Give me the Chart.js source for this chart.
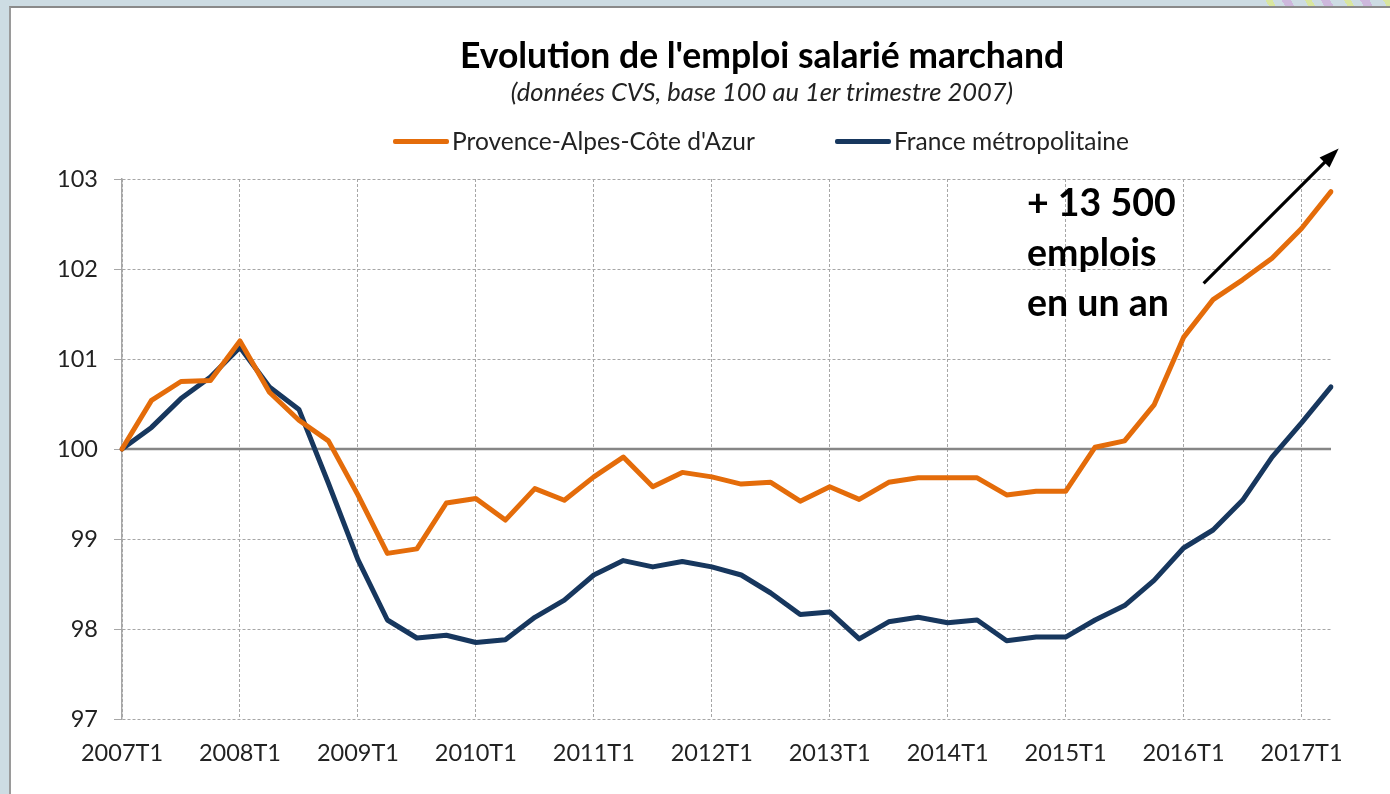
<!DOCTYPE html>
<html>
<head>
<meta charset="utf-8">
<script src="https://cdn.jsdelivr.net/npm/chart.js@4.4.1/dist/chart.umd.min.js"></script>
<style>
  html, body { margin: 0; padding: 0; }
  body { width: 1390px; height: 794px; background: #cddce3; position: relative; overflow: hidden; font-family: Lato, "Open Sans", sans-serif; }
  #stripes { position: absolute; left: 1255px; top: 0; width: 135px; height: 6px;
    background: repeating-linear-gradient(60deg, #cddce3 0 12px, #d9e6a0 12px 18px, #cddce3 18px 26px, #cdb8dc 26px 34px); }
  #panel { position: absolute; left: 9px; top: 6px; right: 0; bottom: 0; background: #fff;
    border-top: 2px solid #8a8a8a; border-left: 2px solid #9a9a9a; }
  #wrap { position: absolute; left: 0; top: 0; width: 1390px; height: 794px; }
  .txt { position: absolute; color: #000; white-space: nowrap; line-height: 1; }
  #title { left: 262px; width: 1000px; top: 37px; text-align: center; font-weight: 700; font-size: 35.5px; }
  #subtitle { left: 262px; width: 1000px; top: 79px; text-align: center; font-style: italic; font-size: 25.5px; color: #222; }
  .leg { position: absolute; top: 129px; height: 24px; display: flex; align-items: center; font-size: 24.5px; color: #222; line-height: 1; white-space: nowrap; }
  .leg .mk { display: inline-block; width: 56px; height: 5px; border-radius: 2px; margin-right: 3px; }
  #note { position: absolute; left: 1027px; top: 177px; font-weight: 700; font-size: 37.5px; line-height: 50px; color: #000; white-space: nowrap; }
</style>
</head>
<body>
<div id="stripes"></div>
<div id="panel"></div>
<div id="wrap"><canvas id="c"></canvas></div>
<div class="txt" id="title">Evolution de l'emploi salarié marchand</div>
<div class="txt" id="subtitle">(données CVS, base 100 au 1er trimestre 2007)</div>
<div class="leg" id="leg1" style="left:393px"><span class="mk" style="background:#E46C0A"></span><span>Provence-Alpes-Côte d'Azur</span></div>
<div class="leg" id="leg2" style="left:835px"><span class="mk" style="background:#17375E"></span><span>France métropolitaine</span></div>
<div id="note">+ 13 500<br>emplois<br>en un an</div>
<script>
// ---- Data ----
const quarters = [
  "2007T1","2007T2","2007T3","2007T4",
  "2008T1","2008T2","2008T3","2008T4",
  "2009T1","2009T2","2009T3","2009T4",
  "2010T1","2010T2","2010T3","2010T4",
  "2011T1","2011T2","2011T3","2011T4",
  "2012T1","2012T2","2012T3","2012T4",
  "2013T1","2013T2","2013T3","2013T4",
  "2014T1","2014T2","2014T3","2014T4",
  "2015T1","2015T2","2015T3","2015T4",
  "2016T1","2016T2","2016T3","2016T4",
  "2017T1","2017T2"
];
const seriesNames = ["Provence-Alpes-Côte d'Azur", "France métropolitaine"];
const pacaValues = [
  100.00, 100.54, 100.75, 100.76,
  101.20, 100.63, 100.32, 100.09,
  99.49, 98.84, 98.89, 99.40,
  99.45, 99.21, 99.56, 99.43,
  99.69, 99.91, 99.58, 99.74,
  99.69, 99.61, 99.63, 99.42,
  99.58, 99.44, 99.63, 99.68,
  99.68, 99.68, 99.49, 99.53,
  99.53, 100.02, 100.09, 100.49,
  101.24, 101.66, 101.88, 102.12,
  102.45, 102.86
];
const franceValues = [
  100.00, 100.24, 100.56, 100.80,
  101.13, 100.69, 100.44, 99.62,
  98.77, 98.10, 97.90, 97.93,
  97.85, 97.88, 98.13, 98.32,
  98.60, 98.76, 98.69, 98.75,
  98.69, 98.60, 98.40, 98.16,
  98.19, 97.89, 98.08, 98.13,
  98.07, 98.10, 97.87, 97.91,
  97.91, 98.10, 98.26, 98.54,
  98.90, 99.10, 99.43, 99.91,
  100.29, 100.69
];
const yTicks = [97, 98, 99, 100, 101, 102, 103];
const baseValue = 100;

// ---- Plugins ----
const baseLinePlugin = {
  id: 'baseLine',
  beforeDatasetsDraw(chart) {
    const {ctx, chartArea, scales} = chart;
    const y = scales.y.getPixelForValue(baseValue);
    ctx.save();
    ctx.strokeStyle = '#868686';
    ctx.lineWidth = 2.5;
    ctx.beginPath();
    ctx.moveTo(chartArea.left, y);
    ctx.lineTo(chartArea.right, y);
    ctx.stroke();
    ctx.restore();
  }
};
const arrowPlugin = {
  id: 'arrow',
  afterDatasetsDraw(chart, args, opts) {
    const {ctx, scales} = chart;
    const x1 = scales.x.getPixelForValue(opts.from[0]);
    const y1 = scales.y.getPixelForValue(opts.from[1]);
    const x2 = scales.x.getPixelForValue(opts.to[0]);
    const y2 = scales.y.getPixelForValue(opts.to[1]);
    const ang = Math.atan2(y2 - y1, x2 - x1);
    const head = 20, hw = 7;
    ctx.save();
    ctx.strokeStyle = '#000';
    ctx.fillStyle = '#000';
    ctx.lineWidth = 3.2;
    ctx.beginPath();
    ctx.moveTo(x1, y1);
    ctx.lineTo(x2 - Math.cos(ang) * head * 0.8, y2 - Math.sin(ang) * head * 0.8);
    ctx.stroke();
    ctx.beginPath();
    ctx.moveTo(x2, y2);
    ctx.lineTo(x2 - Math.cos(ang) * head - Math.sin(ang) * hw, y2 - Math.sin(ang) * head + Math.cos(ang) * hw);
    ctx.lineTo(x2 - Math.cos(ang) * head + Math.sin(ang) * hw, y2 - Math.sin(ang) * head - Math.cos(ang) * hw);
    ctx.closePath();
    ctx.fill();
    ctx.restore();
  }
};

const gridColor = '#a6a6a6';
const tickFont = {family: 'Lato, "Open Sans", sans-serif', size: 23.5};

new Chart(document.getElementById('c'), {
  type: 'line',
  data: {
    labels: quarters,
    datasets: [
      {label: seriesNames[0], data: pacaValues, borderColor: '#E46C0A', backgroundColor: '#E46C0A',
       borderWidth: 5, pointRadius: 0, tension: 0, borderJoinStyle: 'round', borderCapStyle: 'round'},
      {label: seriesNames[1], data: franceValues, borderColor: '#17375E', backgroundColor: '#17375E',
       borderWidth: 5, pointRadius: 0, tension: 0, borderJoinStyle: 'round', borderCapStyle: 'round'}
    ]
  },
  options: {
    responsive: true,
    maintainAspectRatio: false,
    animation: false,
    layout: {padding: {left: 52, right: 59, top: 179, bottom: 15}},
    plugins: {
      legend: {display: false},
      title: {display: false},
      tooltip: {enabled: false},
      arrow: {from: [36.68, 101.84], to: [41.26, 103.34]}
    },
    scales: {
      x: {
        type: 'category',
        offset: false,
        afterFit(scale) { scale.height = 60; },
        grid: {
          color: (c) => (c.index % 4 === 0 ? gridColor : 'rgba(0,0,0,0)'),
          lineWidth: 1,
          drawTicks: false,
          tickLength: 0
        },
        border: {display: false, dash: [3, 2]},
        ticks: {
          autoSkip: false,
          maxRotation: 0,
          minRotation: 0,
          padding: 20,
          color: '#222',
          font: tickFont,
          callback: function(value, index) { return index % 4 === 0 ? quarters[index] : ''; }
        }
      },
      y: {
        min: yTicks[0],
        max: yTicks[yTicks.length - 1],
        afterFit(scale) { scale.width = 70; },
        afterBuildTicks(scale) { scale.ticks = yTicks.map(v => ({value: v})); },
        grid: {
          color: gridColor,
          lineWidth: 1,
          drawTicks: true,
          tickLength: 8,
          tickColor: gridColor,
          tickBorderDash: []
        },
        border: {display: true, color: gridColor, width: 1.5, dash: [3, 2]},
        ticks: {
          padding: 16,
          color: '#222',
          font: tickFont
        }
      }
    }
  },
  plugins: [baseLinePlugin, arrowPlugin]
});
</script>
</body>
</html>
